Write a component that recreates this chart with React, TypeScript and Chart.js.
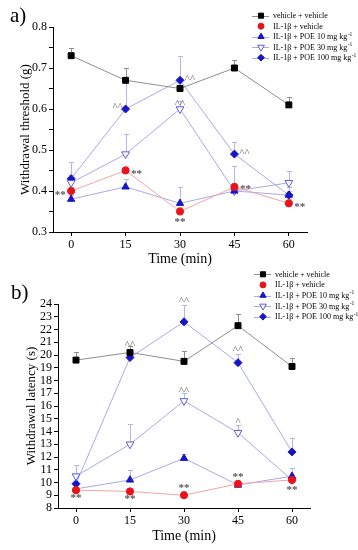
import React, { useEffect, useRef } from "react";
import { Chart, registerables } from "chart.js";
import { drawPoint } from "chart.js/helpers";

Chart.register(...registerables);

// ---------- DATA ----------
const timePoints = [0, 15, 30, 45, 60];

const seriesLabels = [
  "vehicle + vehicle",
  "IL-1β + vehicle",
  "IL-1β + POE 10 mg kg",
  "IL-1β + POE 30 mg kg",
  "IL-1β + POE 100 mg kg",
];
const labelSuperscripts = ["", "", "-1", "-1", "-1"];

// Panel a) withdrawal threshold (g)
const thrVehicle = [0.73, 0.67, 0.65, 0.7, 0.61];
const thrIL = [0.4, 0.45, 0.35, 0.41, 0.37];
const thrPOE10 = [0.38, 0.41, 0.37, 0.4, 0.39];
const thrPOE30 = [0.42, 0.49, 0.6, 0.4, 0.42];
const thrPOE100 = [0.43, 0.6, 0.67, 0.49, 0.39];

const thrErrVehicle = [0.02, 0.03, 0.02, 0.02, 0.02];
const thrErrIL = [0.01, 0.01, 0.01, 0.01, 0.01];
const thrErrPOE10 = [0.01, 0.02, 0.04, 0.01, 0.01];
const thrErrPOE30 = [0.02, 0.05, 0.02, 0.06, 0.03];
const thrErrPOE100 = [0.04, 0.07, 0.06, 0.03, 0.02];

const thrTicks = [0.3, 0.4, 0.5, 0.6, 0.7, 0.8];

// annotations: [time, value, text]
const thrStars = [
  [0, 0.4, "**"],
  [15, 0.45, "**"],
  [30, 0.35, "**"],
  [45, 0.415, "**"],
  [60, 0.37, "**"],
];
const thrCarets = [
  [15, 0.6, "^^"],
  [30, 0.67, "^^"],
  [30, 0.6, "^^"],
  [45, 0.49, "^^"],
];
// placement of each annotation relative to its point
const thrStarPlace = ["l", "r", "b", "r", "r"];
const thrCaretPlace = ["tl", "tr", "t", "tr"];

// Panel b) withdrawal latency (s)
const latVehicle = [19.6, 20.2, 19.5, 22.3, 19.1];
const latIL = [9.4, 9.3, 9.0, 9.9, 10.2];
const latPOE10 = [9.5, 10.2, 11.9, 9.8, 10.5];
const latPOE30 = [10.5, 13.0, 16.4, 13.9, 10.2];
const latPOE100 = [9.9, 19.8, 22.6, 19.4, 12.4];

const latErrVehicle = [0.6, 0.5, 0.8, 0.9, 0.7];
const latErrIL = [0.2, 0.2, 0.3, 0.2, 0.2];
const latErrPOE10 = [0.3, 0.8, 0.3, 0.3, 0.6];
const latErrPOE30 = [0.9, 1.6, 0.6, 0.6, 0.4];
const latErrPOE100 = [0.5, 0.7, 1.3, 0.7, 1.1];

const latTicks = [8, 9, 10, 11, 12, 13, 14, 15, 16, 17, 18, 19, 20, 21, 22, 23, 24];

const latStars = [
  [0, 8.9, "**"],
  [15, 8.85, "**"],
  [30, 9.7, "**"],
  [45, 10.55, "**"],
  [60, 9.55, "**"],
];
const latCarets = [
  [15, 21.0, "^^"],
  [30, 24.5, "^^"],
  [45, 20.6, "^^"],
  [30, 17.4, "^^"],
  [45, 15.0, "^"],
];

// ---------- STYLES ----------
const SERIF = "'Liberation Serif', 'Times New Roman', serif";

const seriesStyles = [
  { line: "#8e8e8e", err: "#8e8e8e", fill: "#000000", stroke: "#000000", style: "rect", rot: 0, r: 4.2, legendLine: true },
  { line: "#f2a4a4", err: "#f0b0b0", fill: "#e8141b", stroke: "#e8141b", style: "circle", rot: 0, r: 3.6, legendLine: false },
  { line: "#a9a9ea", err: "#b4b4ee", fill: "#1616c8", stroke: "#1616c8", style: "triangle", rot: 0, r: 4.2, legendLine: true },
  { line: "#a9a9ea", err: "#b4b4ee", fill: "#ffffff", stroke: "#5c5ce0", style: "triangle", rot: 180, r: 4.5, legendLine: true },
  { line: "#a9a9ea", err: "#b4b4ee", fill: "#1616c8", stroke: "#1616c8", style: "rectRot", rot: 0, r: 4, legendLine: true },
];

const placeOffsets: Record<string, [number, number]> = {
  l: [-11, 2],
  r: [11, 2],
  b: [0, 9],
  t: [0, -8],
  tl: [-8, -5],
  tr: [10, -4],
  c: [0, 0],
};

type Panel = {
  letter: string;
  yTitle: string;
  values: number[][];
  errors: number[][];
  yMin: number;
  yMax: number;
  yStep: number;
  majorTicks: number[];
  annotations: { x: number; y: number; text: string; place: string; bold: boolean }[];
  height: number;
  area: { left: number; right: number; top: number; bottom: number };
  legend: { x: number; y: number; dy: number };
  letterPos: { x: number; y: number };
  yTitlePad: number;
  xTitlePad: number;
};

function buildAnn(list: (string | number)[][], places: string[] | null, bold: boolean) {
  return list.map((a, i) => ({
    x: a[0] as number,
    y: a[1] as number,
    text: a[2] as string,
    place: places ? places[i] : "c",
    bold,
  }));
}

const panelA: Panel = {
  letter: "a)",
  yTitle: "Withdrawal threshold (g)",
  values: [thrVehicle, thrIL, thrPOE10, thrPOE30, thrPOE100],
  errors: [thrErrVehicle, thrErrIL, thrErrPOE10, thrErrPOE30, thrErrPOE100],
  yMin: 0.3,
  yMax: 0.8,
  yStep: 0.05,
  majorTicks: thrTicks,
  annotations: [...buildAnn(thrStars, thrStarPlace, true), ...buildAnn(thrCarets, thrCaretPlace, false)],
  height: 270,
  area: { left: 53, right: 307, top: 27, bottom: 232 },
  legend: { x: 252, y: 15.7, dy: 10.5 },
  letterPos: { x: 10, y: 22 },
  yTitlePad: 18,
  xTitlePad: 2,
};

const panelB: Panel = {
  letter: "b)",
  yTitle: "Withdrawal latency (s)",
  values: [latVehicle, latIL, latPOE10, latPOE30, latPOE100],
  errors: [latErrVehicle, latErrIL, latErrPOE10, latErrPOE30, latErrPOE100],
  yMin: 8,
  yMax: 24,
  yStep: 1,
  majorTicks: latTicks,
  annotations: [...buildAnn(latStars, null, true), ...buildAnn(latCarets, null, false)],
  height: 280,
  area: { left: 58, right: 310, top: 34, bottom: 238 },
  legend: { x: 254, y: 4.3, dy: 10.6 },
  letterPos: { x: 11, y: 29 },
  yTitlePad: 24,
  xTitlePad: 5,
};

function decorPlugin(p: Panel) {
  return {
    id: "decor" + p.letter,
    beforeDatasetsDraw(chart: any) {
      const ctx = chart.ctx;
      const xs = chart.scales.x;
      const ys = chart.scales.y;
      p.values.forEach((vals, i) => {
        ctx.save();
        ctx.strokeStyle = seriesStyles[i].err;
        ctx.lineWidth = 1;
        vals.forEach((v, j) => {
          const x = Math.round(xs.getPixelForValue(timePoints[j])) + 0.5;
          const y0 = ys.getPixelForValue(v);
          const y1 = Math.round(ys.getPixelForValue(v + p.errors[i][j])) + 0.5;
          ctx.beginPath();
          ctx.moveTo(x, y0);
          ctx.lineTo(x, y1);
          ctx.moveTo(x - 2.5, y1);
          ctx.lineTo(x + 2.5, y1);
          ctx.stroke();
        });
        ctx.restore();
      });
    },
    afterDatasetsDraw(chart: any) {
      const ctx = chart.ctx;
      const xs = chart.scales.x;
      const ys = chart.scales.y;
      ctx.save();
      ctx.textAlign = "center";
      ctx.textBaseline = "middle";
      p.annotations.forEach((a) => {
        const [dx, dy] = placeOffsets[a.place];
        const x = xs.getPixelForValue(a.x) + dx;
        const y = ys.getPixelForValue(a.y) + dy;
        if (a.bold) {
          ctx.fillStyle = "#555555";
          ctx.font = `bold 11px ${SERIF}`;
          ctx.fillText(a.text, x, y + 2);
        } else {
          ctx.fillStyle = "#666666";
          ctx.font = `11px ${SERIF}`;
          ctx.fillText(a.text, x, y + 3);
        }
      });
      ctx.restore();
    },
    afterDraw(chart: any) {
      const ctx = chart.ctx;
      ctx.save();
      // panel letter
      ctx.fillStyle = "#000";
      ctx.font = `21px ${SERIF}`;
      ctx.textAlign = "left";
      ctx.textBaseline = "alphabetic";
      ctx.fillText(p.letter, p.letterPos.x, p.letterPos.y);
      // legend
      seriesLabels.forEach((label, i) => {
        const st = seriesStyles[i];
        const y = p.legend.y + i * p.legend.dy;
        const x0 = p.legend.x;
        if (st.legendLine) {
          ctx.strokeStyle = st.line;
          ctx.lineWidth = 1;
          ctx.beginPath();
          ctx.moveTo(x0, Math.round(y) + 0.5);
          ctx.lineTo(x0 + 17, Math.round(y) + 0.5);
          ctx.stroke();
        }
        ctx.fillStyle = st.fill;
        ctx.strokeStyle = st.stroke;
        ctx.lineWidth = 1;
        drawPoint(ctx, { pointStyle: st.style, radius: st.r - 0.6, rotation: st.rot, borderWidth: 1 }, x0 + 9, y);
        ctx.fillStyle = "#000";
        ctx.font = `8px ${SERIF}`;
        ctx.textBaseline = "middle";
        ctx.fillText(label, x0 + 21, y + 0.5);
        if (labelSuperscripts[i]) {
          const w = ctx.measureText(label).width;
          ctx.font = `5.5px ${SERIF}`;
          ctx.fillText(labelSuperscripts[i], x0 + 21 + w + 0.5, y - 2.5);
        }
      });
      ctx.restore();
    },
  };
}

function makeConfig(p: Panel): any {
  const W = 358;
  const datasets = p.values.map((vals, i) => {
    const st = seriesStyles[i];
    return {
      label: seriesLabels[i],
      data: timePoints.map((t, j) => ({ x: t, y: vals[j] })),
      borderColor: st.line,
      borderWidth: 1,
      pointStyle: st.style,
      rotation: st.rot,
      pointRadius: st.r,
      pointBackgroundColor: st.fill,
      pointBorderColor: st.stroke,
      pointBorderWidth: 1,
      tension: 0,
      fill: false,
    };
  });
  const isA = p.letter === "a)";
  return {
    type: "line",
    data: { datasets },
    options: {
      animation: false,
      responsive: false,
      devicePixelRatio: 1,
      layout: {
        padding: { left: 0, top: p.area.top, right: W - p.area.right, bottom: 0 },
      },
      plugins: { legend: { display: false }, tooltip: { enabled: false } },
      scales: {
        x: {
          type: "linear",
          min: -5,
          max: 65,
          afterBuildTicks: (scale: any) => {
            scale.ticks = timePoints.map((v) => ({ value: v }));
          },
          afterFit: (scale: any) => {
            scale.height = p.height - p.area.bottom;
          },
          grid: { drawOnChartArea: false, drawTicks: true, tickLength: 4, color: "#000" },
          border: { display: true, color: "#000", width: 1 },
          ticks: {
            color: "#000",
            font: { family: SERIF, size: 12 },
            padding: 2,
            autoSkip: false,
            maxRotation: 0,
            callback: (v: number) => String(v),
          },
          title: {
            display: true,
            text: "Time (min)",
            color: "#000",
            font: { family: SERIF, size: 14 },
            padding: { top: p.xTitlePad, bottom: p.xTitlePad },
          },
        },
        y: {
          type: "linear",
          min: p.yMin,
          max: p.yMax,
          afterBuildTicks: (scale: any) => {
            const ticks = [];
            const n = Math.round((p.yMax - p.yMin) / p.yStep);
            for (let k = 0; k <= n; k++) ticks.push({ value: +(p.yMin + k * p.yStep).toFixed(4) });
            scale.ticks = ticks;
          },
          afterFit: (scale: any) => {
            scale.width = p.area.left;
          },
          grid: { drawOnChartArea: false, drawTicks: true, tickLength: 4, color: "#000" },
          border: { display: true, color: "#000", width: 1 },
          ticks: {
            color: "#000",
            font: { family: SERIF, size: 12 },
            padding: 2,
            autoSkip: false,
            callback: (v: number) => {
              const hit = p.majorTicks.some((m) => Math.abs(m - v) < 1e-6);
              if (!hit) return "";
              return isA ? v.toFixed(1) : String(v);
            },
          },
          title: {
            display: true,
            text: p.yTitle,
            color: "#000",
            font: { family: SERIF, size: 13 },
            padding: { top: p.yTitlePad, bottom: p.yTitlePad },
          },
        },
      },
    },
    plugins: [decorPlugin(p)],
  };
}

function PanelChart({ panel }: { panel: Panel }) {
  const ref = useRef<HTMLCanvasElement | null>(null);
  useEffect(() => {
    if (!ref.current) return;
    const chart = new Chart(ref.current, makeConfig(panel));
    return () => chart.destroy();
  }, [panel]);
  return (
    <canvas
      ref={ref}
      width={358}
      height={panel.height}
      style={{ display: "block", width: 358, height: panel.height }}
    />
  );
}

export default function App() {
  return (
    <div style={{ position: "absolute", left: 0, top: 0, width: 358, height: 550, background: "#fff" }}>
      <PanelChart panel={panelA} />
      <PanelChart panel={panelB} />
    </div>
  );
}
